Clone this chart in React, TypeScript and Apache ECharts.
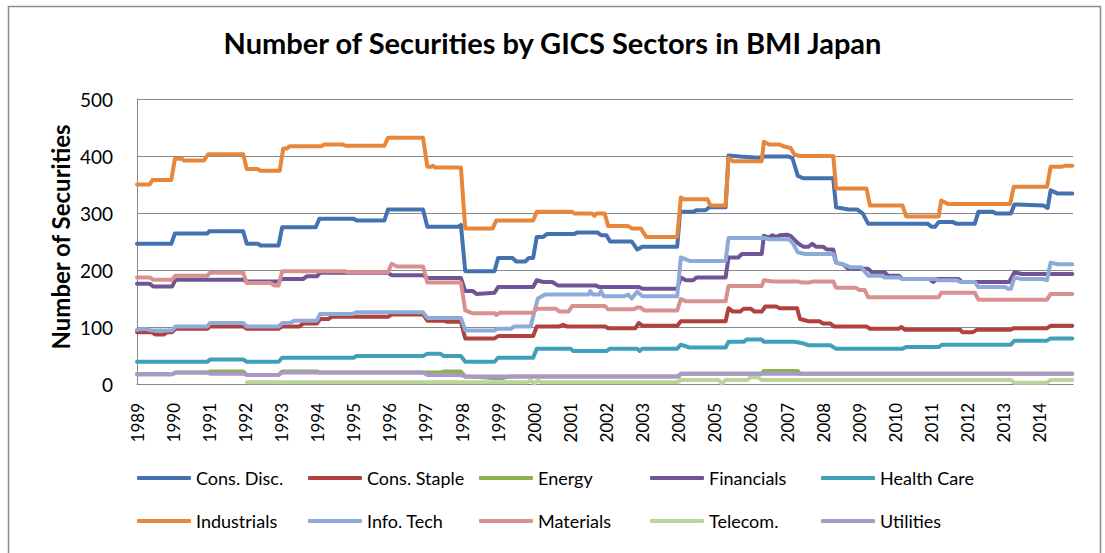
import React, { useEffect, useRef } from "react";
import * as echarts from "echarts";

type Pt = [number, number];

const FONT = "Lato, 'DejaVu Sans', sans-serif";

const seriesNames = [
  "Cons. Disc.",
  "Cons. Staple",
  "Energy",
  "Financials",
  "Health Care",
  "Industrials",
  "Info. Tech",
  "Materials",
  "Telecom.",
  "Utilities",
];

const seriesColors = [
  "#4472B0",
  "#B0413E",
  "#8DB050",
  "#6F5596",
  "#40A0BA",
  "#E8873A",
  "#8EABD8",
  "#D8918F",
  "#BCD39A",
  "#A999C6",
];

// legend columns (row 1, row 2)
const legendColumns = [
  ["Cons. Disc.", "Industrials"],
  ["Cons. Staple", "Info. Tech"],
  ["Energy", "Materials"],
  ["Financials", "Telecom."],
  ["Health Care", "Utilities"],
];

const yTicks = [0, 100, 200, 300, 400, 500];
const firstYear = 1989;
const lastYear = 2014;

// [decimal year, number of securities]
const consDisc: Pt[] = [
  [1989.0, 246], [1989.95, 246], [1990.05, 264], [1990.95, 264], [1991.0, 268], [1991.94, 268],
  [1992.04, 246], [1992.35, 246], [1992.42, 243], [1992.92, 243], [1993.02, 275], [1993.95, 275],
  [1994.05, 290], [1995.0, 290], [1995.08, 287], [1995.85, 287], [1995.95, 306], [1996.92, 306],
  [1997.04, 276], [1997.9, 276], [1997.97, 279], [1998.09, 198], [1998.9, 198], [1999.0, 221],
  [1999.4, 221], [1999.5, 215], [1999.75, 215], [1999.85, 221], [1999.97, 221], [2000.07, 258],
  [2000.25, 258], [2000.35, 263], [2001.1, 263], [2001.2, 266], [2001.75, 266], [2001.85, 261],
  [2002.0, 261], [2002.1, 250], [2002.7, 250], [2002.85, 236], [2003.0, 241], [2003.96, 241],
  [2004.04, 302], [2004.4, 302], [2004.5, 305], [2004.75, 305], [2004.85, 310], [2005.3, 310],
  [2005.38, 401], [2005.7, 399], [2006.2, 397], [2006.4, 399], [2007.05, 399], [2007.15, 396],
  [2007.3, 365], [2007.45, 361], [2008.28, 361], [2008.36, 310], [2008.7, 306], [2008.95, 306],
  [2009.1, 299], [2009.25, 281], [2010.9, 281], [2011.0, 276], [2011.1, 276], [2011.2, 284],
  [2011.6, 284], [2011.7, 281], [2012.2, 281], [2012.3, 302], [2012.7, 302], [2012.8, 299],
  [2013.2, 299], [2013.3, 315], [2014.1, 313], [2014.22, 309], [2014.3, 340], [2014.5, 334],
  [2014.9, 334],
];

const consStaple: Pt[] = [
  [1989.0, 91], [1989.4, 91], [1989.5, 87], [1989.75, 87], [1989.85, 91], [1989.97, 91],
  [1990.07, 97], [1990.95, 97], [1991.02, 101], [1991.94, 101], [1992.04, 97], [1992.92, 97],
  [1993.02, 101], [1993.5, 101], [1993.6, 106], [1993.98, 106], [1994.07, 114], [1994.3, 114],
  [1994.4, 118], [1995.95, 118], [1996.05, 122], [1996.92, 122], [1997.04, 111], [1997.5, 111],
  [1997.6, 109], [1997.97, 109], [1998.09, 80], [1998.9, 80], [1999.0, 84], [1999.97, 84],
  [2000.07, 101], [2000.7, 101], [2000.8, 104], [2000.9, 101], [2001.95, 101], [2002.05, 98],
  [2002.8, 98], [2002.9, 107], [2003.0, 102], [2003.96, 102], [2004.06, 110], [2005.3, 110],
  [2005.38, 133], [2005.5, 127], [2005.7, 127], [2005.8, 132], [2006.0, 132], [2006.1, 127],
  [2006.3, 127], [2006.4, 136], [2006.7, 136], [2006.8, 133], [2007.28, 133], [2007.36, 114],
  [2007.6, 110], [2007.9, 110], [2008.0, 106], [2008.2, 106], [2008.3, 101], [2009.2, 101],
  [2009.3, 97], [2010.1, 97], [2010.17, 100], [2010.27, 95], [2011.8, 95], [2011.85, 91],
  [2012.15, 91], [2012.25, 95], [2013.18, 95], [2013.28, 98], [2014.2, 98], [2014.3, 102],
  [2014.9, 102],
];

const energy: Pt[] = [
  [1989.0, 17], [1989.97, 17], [1990.07, 20], [1990.95, 20], [1991.02, 22], [1991.94, 22],
  [1992.04, 16], [1992.92, 16], [1993.02, 22], [1993.98, 22], [1994.07, 20], [1997.4, 20],
  [1997.5, 22], [1997.97, 22], [1998.09, 13], [1998.6, 12], [1998.9, 10], [1999.1, 10],
  [1999.3, 13], [2004.0, 13], [2004.06, 18], [2006.3, 18], [2006.36, 23], [2007.3, 23],
  [2007.36, 18], [2014.9, 18],
];

const financials: Pt[] = [
  [1989.0, 176], [1989.35, 176], [1989.45, 171], [1989.97, 171], [1990.07, 183], [1991.94, 183],
  [1992.04, 180], [1992.92, 180], [1993.02, 184], [1993.6, 184], [1993.7, 189], [1993.98, 189],
  [1994.07, 195], [1995.95, 195], [1996.05, 191], [1996.92, 191], [1997.04, 186], [1997.97, 186],
  [1998.09, 163], [1998.3, 163], [1998.4, 158], [1998.9, 160], [1999.0, 170], [1999.97, 170],
  [2000.07, 182], [2000.25, 179], [2000.5, 179], [2000.65, 173], [2001.7, 173], [2001.8, 170],
  [2002.9, 170], [2003.0, 167], [2003.96, 167], [2004.06, 187], [2004.2, 182], [2004.4, 182],
  [2004.5, 187], [2005.3, 187], [2005.38, 222], [2005.65, 222], [2005.75, 228], [2006.3, 228],
  [2006.36, 260], [2006.5, 257], [2006.6, 261], [2006.7, 258], [2006.8, 261], [2007.0, 262],
  [2007.1, 260], [2007.3, 247], [2007.45, 241], [2007.6, 241], [2007.7, 246], [2007.8, 241],
  [2008.0, 241], [2008.1, 236], [2008.28, 236], [2008.36, 213], [2008.55, 210], [2008.7, 202],
  [2009.25, 202], [2009.35, 196], [2009.7, 196], [2009.8, 190], [2010.1, 190], [2010.2, 184],
  [2010.95, 184], [2011.05, 179], [2011.15, 184], [2011.75, 184], [2011.85, 179], [2013.15, 179],
  [2013.3, 196], [2013.5, 193], [2014.9, 193],
];

const healthCare: Pt[] = [
  [1989.0, 39], [1990.95, 39], [1991.02, 43], [1991.94, 43], [1992.04, 39], [1992.92, 39],
  [1993.02, 46], [1995.0, 46], [1995.08, 49], [1996.92, 49], [1997.04, 53], [1997.4, 53],
  [1997.5, 49], [1997.97, 49], [1998.09, 39], [1998.9, 39], [1999.0, 46], [1999.97, 46],
  [2000.07, 62], [2001.0, 62], [2001.08, 58], [2002.0, 58], [2002.1, 62], [2002.85, 62],
  [2002.92, 58], [2003.0, 62], [2003.96, 62], [2004.06, 69], [2004.3, 64], [2005.3, 64],
  [2005.38, 74], [2005.8, 74], [2005.88, 78], [2006.3, 78], [2006.36, 74], [2007.2, 74],
  [2007.4, 72], [2007.6, 68], [2008.2, 68], [2008.35, 62], [2010.2, 62], [2010.3, 65],
  [2011.2, 65], [2011.3, 69], [2013.2, 69], [2013.3, 76], [2014.2, 76], [2014.3, 80],
  [2014.9, 80],
];

const industrials: Pt[] = [
  [1989.0, 350], [1989.35, 350], [1989.43, 358], [1989.95, 358], [1990.05, 395], [1990.25, 395],
  [1990.3, 392], [1990.85, 392], [1990.97, 403], [1991.94, 403], [1992.04, 377], [1992.35, 377],
  [1992.42, 374], [1992.95, 374], [1993.05, 413], [1993.15, 413], [1993.22, 417], [1994.1, 417],
  [1994.18, 420], [1994.7, 420], [1994.78, 418], [1995.85, 418], [1995.95, 432], [1996.92, 432],
  [1997.04, 381], [1997.15, 381], [1997.2, 383], [1997.25, 380], [1997.97, 380], [1998.09, 273],
  [1998.85, 273], [1998.95, 287], [1999.97, 287], [2000.07, 302], [2001.05, 302], [2001.12, 299],
  [2001.6, 299], [2001.67, 295], [2001.72, 299], [2001.95, 299], [2002.05, 277], [2002.6, 277],
  [2002.7, 273], [2002.95, 273], [2003.1, 258], [2003.96, 258], [2004.06, 327], [2004.15, 324],
  [2004.8, 324], [2004.88, 313], [2005.3, 313], [2005.38, 397], [2005.5, 391], [2006.3, 391],
  [2006.36, 425], [2006.5, 420], [2006.8, 420], [2006.9, 417], [2007.1, 414], [2007.2, 403],
  [2007.35, 400], [2008.28, 400], [2008.36, 343], [2009.2, 343], [2009.3, 313], [2010.2, 313],
  [2010.3, 294], [2011.2, 294], [2011.27, 322], [2011.45, 316], [2013.18, 316], [2013.28, 346],
  [2014.2, 346], [2014.3, 381], [2014.6, 381], [2014.7, 383], [2014.9, 383],
];

const infoTech: Pt[] = [
  [1989.0, 95], [1989.2, 97], [1989.4, 94], [1989.97, 94], [1990.07, 101], [1990.95, 101],
  [1991.02, 107], [1991.94, 107], [1992.04, 101], [1992.92, 101], [1993.02, 107], [1993.25, 107],
  [1993.35, 111], [1993.98, 111], [1994.07, 123], [1994.98, 123], [1995.08, 126], [1996.92, 126],
  [1997.04, 116], [1997.97, 116], [1998.09, 94], [1998.9, 94], [1999.0, 97], [1999.35, 97],
  [1999.45, 101], [1999.9, 101], [2000.1, 150], [2000.3, 157], [2001.5, 157], [2001.55, 163],
  [2001.62, 157], [2001.8, 157], [2001.85, 163], [2001.92, 154], [2002.5, 154], [2002.6, 157],
  [2002.7, 150], [2002.85, 162], [2003.0, 154], [2003.96, 154], [2004.06, 222], [2004.3, 216],
  [2005.3, 216], [2005.38, 256], [2006.4, 256], [2006.5, 254], [2007.05, 254], [2007.15, 248],
  [2007.3, 231], [2007.5, 228], [2008.28, 228], [2008.36, 213], [2008.55, 210], [2008.75, 205],
  [2009.05, 205], [2009.25, 190], [2009.6, 190], [2009.7, 187], [2010.1, 187], [2010.2, 184],
  [2011.1, 184], [2011.2, 182], [2011.7, 182], [2011.8, 179], [2012.2, 179], [2012.3, 170],
  [2013.05, 170], [2013.12, 167], [2013.2, 167], [2013.3, 187], [2013.5, 184], [2014.1, 184],
  [2014.2, 182], [2014.3, 213], [2014.5, 210], [2014.9, 210],
];

const materials: Pt[] = [
  [1989.0, 187], [1989.35, 187], [1989.45, 183], [1989.97, 183], [1990.07, 190], [1990.95, 190],
  [1991.02, 195], [1991.94, 195], [1992.04, 177], [1992.7, 177], [1992.8, 173], [1992.92, 173],
  [1993.02, 198], [1994.75, 198], [1994.85, 196], [1995.95, 196], [1996.05, 211], [1996.2, 206],
  [1996.92, 206], [1997.04, 178], [1997.97, 178], [1998.09, 129], [1998.3, 124], [1998.9, 124],
  [1998.95, 121], [1999.05, 125], [1999.97, 125], [2000.07, 132], [2000.6, 132], [2000.7, 127],
  [2000.95, 127], [2001.05, 137], [2001.95, 137], [2002.05, 131], [2002.75, 131], [2002.85, 134],
  [2002.95, 134], [2003.05, 129], [2003.96, 129], [2004.06, 149], [2004.2, 145], [2005.3, 145],
  [2005.38, 172], [2006.3, 172], [2006.36, 182], [2006.6, 180], [2007.3, 180], [2007.4, 178],
  [2007.6, 178], [2007.75, 180], [2008.28, 180], [2008.36, 169], [2008.9, 169], [2009.0, 165],
  [2009.15, 165], [2009.25, 152], [2011.2, 152], [2011.27, 160], [2012.2, 160], [2012.3, 148],
  [2014.2, 148], [2014.3, 158], [2014.9, 158],
];

const telecom: Pt[] = [
  [1992.04, 3], [1999.8, 3], [1999.9, 6], [2000.0, 1], [2000.1, 6], [2000.2, 3], [2003.96, 3],
  [2004.06, 7], [2005.1, 7], [2005.2, 1], [2005.3, 7], [2005.9, 7], [2006.0, 12], [2006.2, 12],
  [2006.3, 7], [2013.2, 7], [2013.3, 2], [2014.2, 2], [2014.3, 7], [2014.9, 7],
];

const utilities: Pt[] = [
  [1989.0, 17], [1989.97, 17], [1990.07, 20], [1990.95, 20], [1991.02, 18], [1991.94, 18],
  [1992.04, 16], [1992.92, 16], [1993.02, 20], [1996.92, 20], [1997.04, 16], [1997.97, 16],
  [1998.09, 13], [2003.96, 13], [2004.06, 18], [2014.9, 18],
];

const seriesData: Pt[][] = [
  consDisc,
  consStaple,
  energy,
  financials,
  healthCare,
  industrials,
  infoTech,
  materials,
  telecom,
  utilities,
];

export default function App() {
  const ref = useRef<HTMLDivElement>(null);

  useEffect(() => {
    if (!ref.current) return;
    const chart = echarts.init(ref.current, undefined, { renderer: "svg" });
    const gray = "#878787";

    const option: any = {
      animation: false,
      backgroundColor: "#ffffff",
      textStyle: { fontFamily: FONT },
      title: {
        text: "Number of Securities by GICS Sectors in BMI Japan",
        left: "center",
        top: 28,
        padding: 0,
        textStyle: { fontFamily: FONT, fontSize: 29, fontWeight: "bold", color: "#000" },
      },
      grid: { left: 137, right: 32, top: 99, bottom: 169, containLabel: false },
      legend: legendColumns.map((names, i) => ({
        orient: "vertical",
        left: 137 + 171 * i,
        top: 468,
        itemWidth: 54,
        itemHeight: 4,
        itemGap: 23,
        icon: "roundRect",
        selectedMode: false,
        padding: 0,
        data: names,
        textStyle: { fontFamily: FONT, fontSize: 18, color: "#000", lineHeight: 20 },
      })),
      xAxis: {
        type: "value",
        min: firstYear,
        max: lastYear + 0.92,
        interval: 1,
        axisLine: { show: true, lineStyle: { color: gray, width: 1 } },
        axisTick: { show: false },
        splitLine: { show: false },
        axisLabel: {
          rotate: 90,
          margin: 19,
          fontSize: 17,
          fontFamily: FONT,
          color: "#000",
          showMaxLabel: false,
          formatter: (v: number) =>
            Math.abs(v - Math.round(v)) < 1e-6 && v <= lastYear ? String(Math.round(v)) : "",
        },
      },
      yAxis: {
        type: "value",
        min: yTicks[0],
        max: yTicks[yTicks.length - 1],
        interval: 100,
        axisLine: { show: true, lineStyle: { color: gray, width: 1 } },
        axisTick: { show: false },
        splitLine: { show: true, lineStyle: { color: gray, width: 1 } },
        axisLabel: { margin: 24, fontSize: 19, fontFamily: FONT, color: "#000" },
      },
      graphic: [
        {
          type: "rect",
          shape: { x: 8.5, y: 6.5, width: 1092, height: 560 },
          style: { fill: "none", stroke: "#8c8c8c", lineWidth: 1.5 },
          silent: true,
        },
        {
          type: "text",
          x: 60,
          y: 237,
          rotation: Math.PI / 2,
          style: {
            text: "Number of Securities",
            fontFamily: FONT,
            fontSize: 24,
            fontWeight: "bold",
            fill: "#000",
            textAlign: "center",
            textVerticalAlign: "middle",
          },
        },
      ],
      series: seriesNames.map((name, i) => ({
        name,
        type: "line",
        data: seriesData[i],
        showSymbol: false,
        symbol: "none",
        lineStyle: { width: 4, color: seriesColors[i], cap: "round", join: "round" },
        itemStyle: { color: seriesColors[i] },
        emphasis: { disabled: true },
      })),
    };

    chart.setOption(option);
    return () => chart.dispose();
  }, []);

  return (
    <div
      ref={ref}
      style={{ position: "fixed", left: 0, top: 0, width: 1105, height: 553, background: "#fff" }}
    />
  );
}
